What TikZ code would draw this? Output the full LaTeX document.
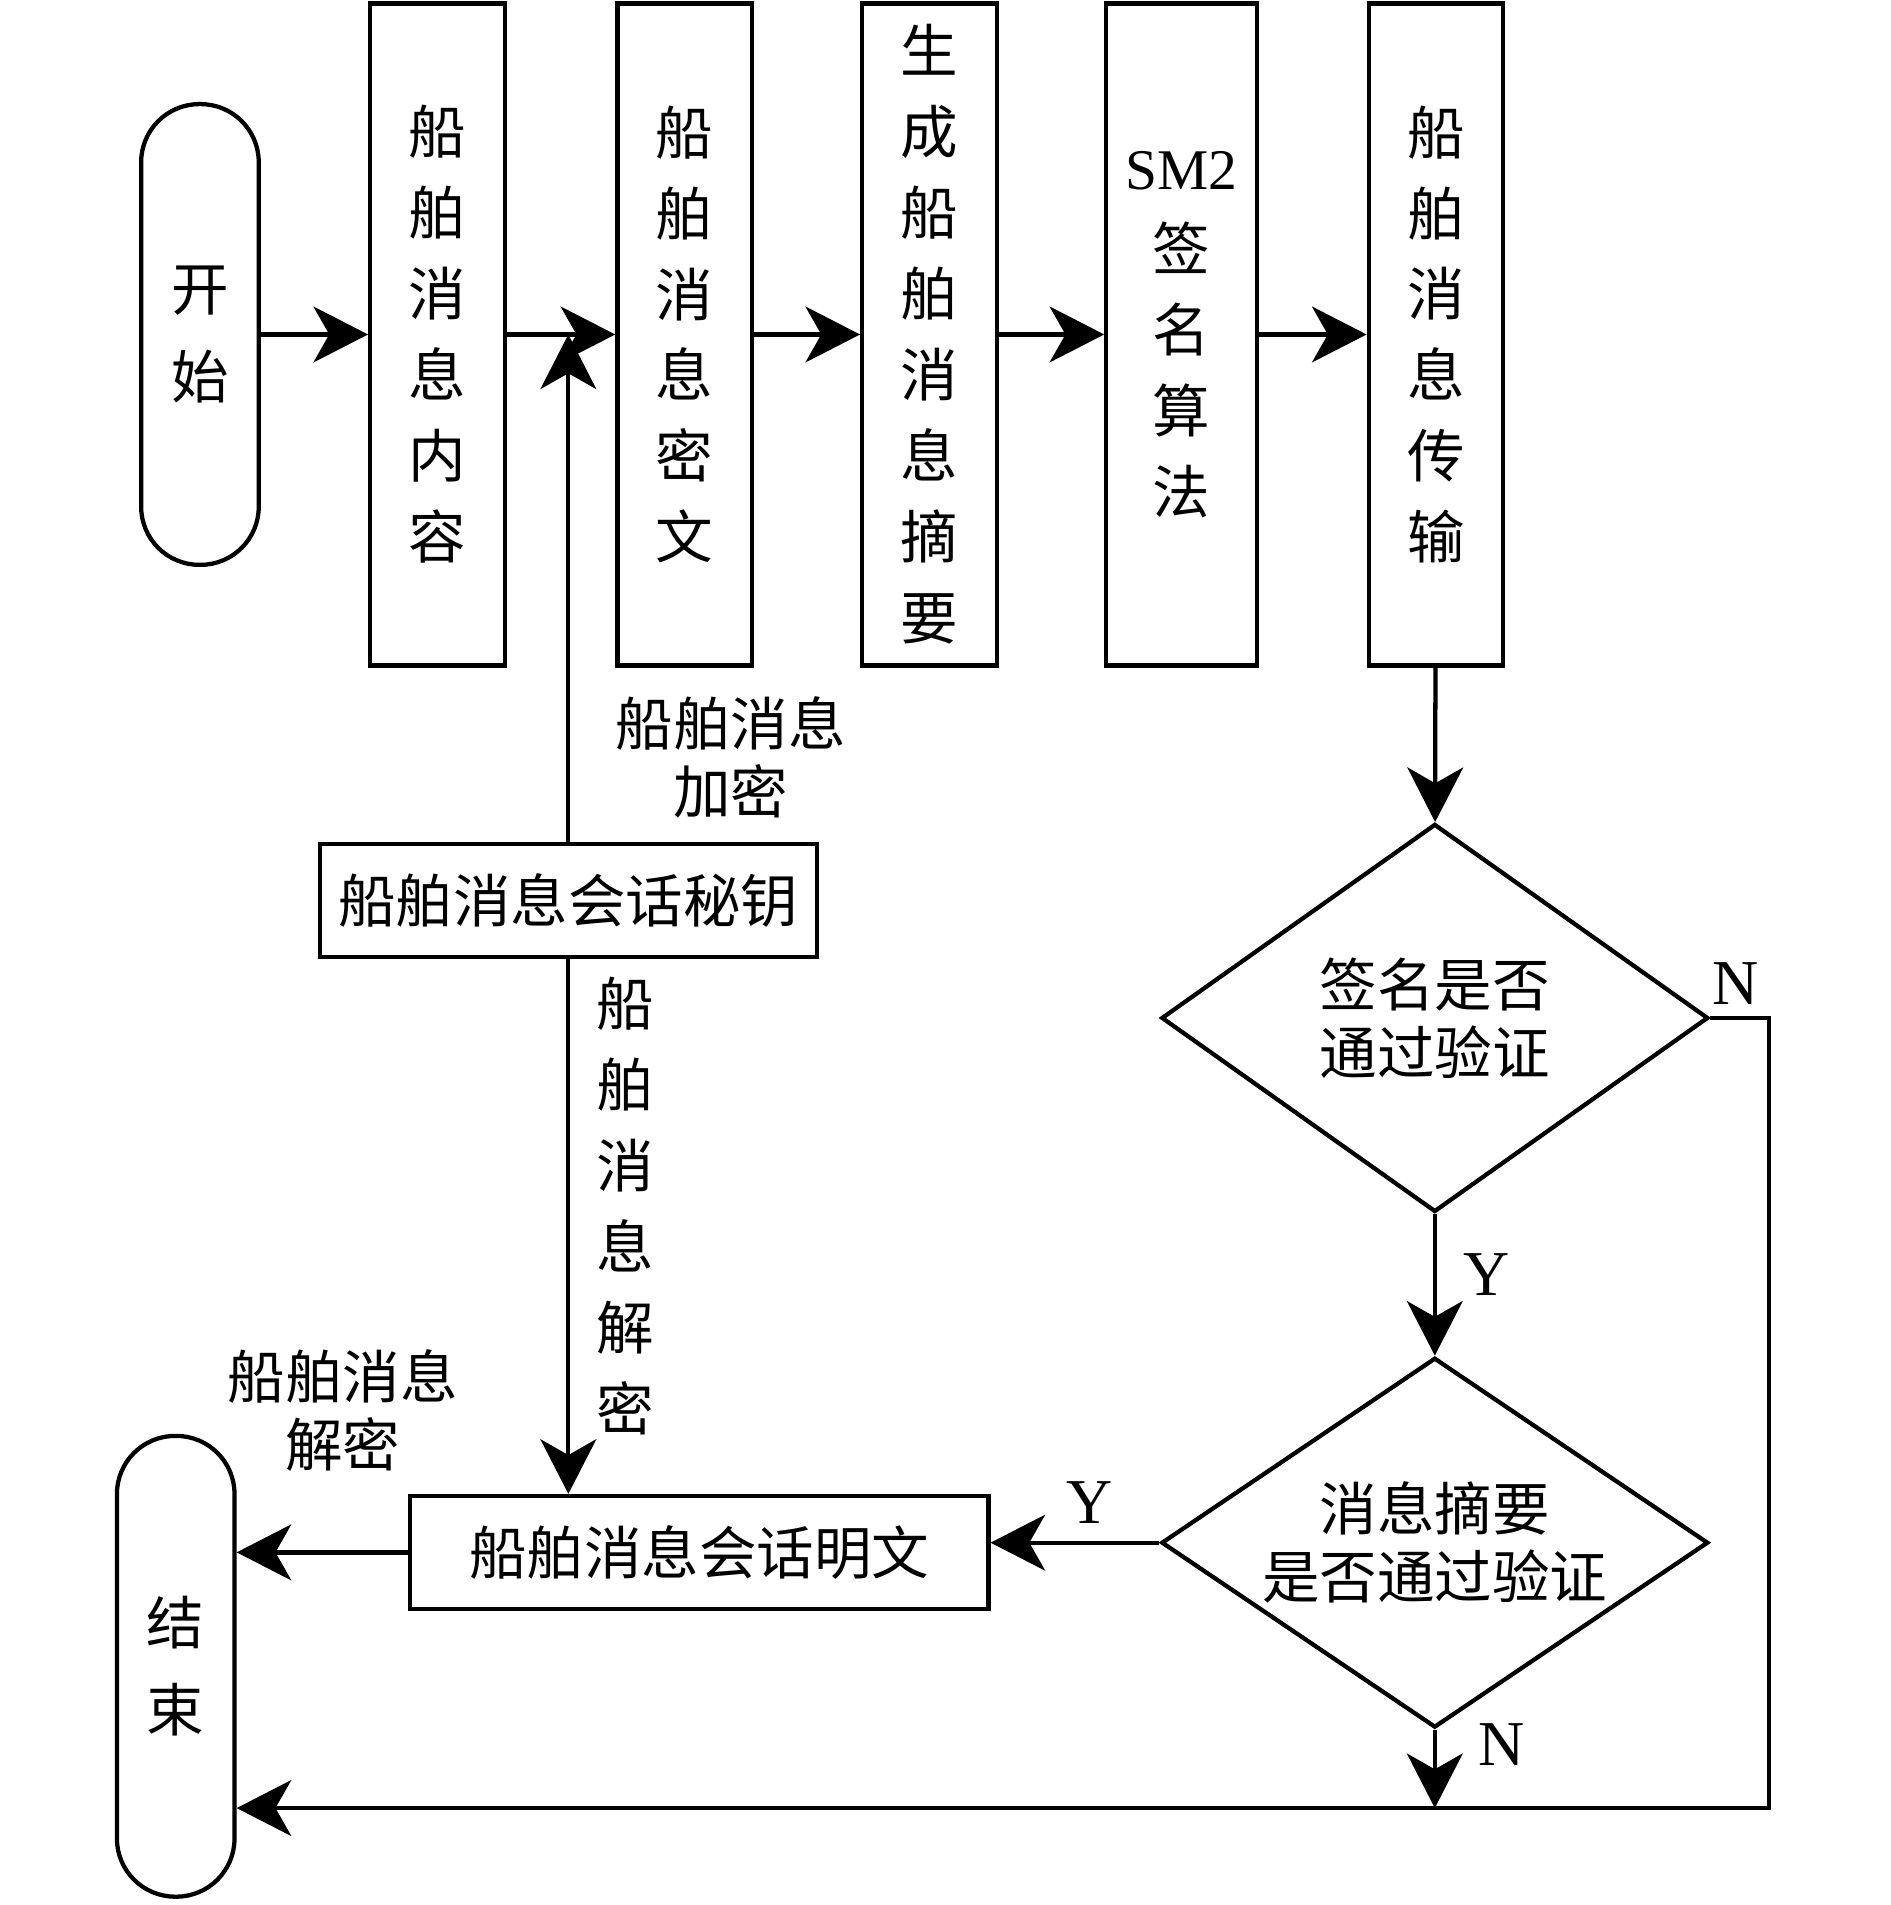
\documentclass[tikz,border=0pt]{standalone}
\usepackage{fontspec}
\setmainfont{Liberation Serif}
\newfontfamily\cjk{Noto Sans CJK SC}
\usetikzlibrary{shapes.geometric,arrows.meta,positioning,calc}

\begin{document}
\begin{tikzpicture}[x=0.01cm, y=-0.01cm, line width=1pt,
    box/.style={draw, minimum width=1.11cm, minimum height=5.46cm, inner sep=0pt, align=center, font=\cjk\fontsize{13.5}{19}\selectfont},
    term/.style={draw, rounded corners=0.48cm, minimum width=0.97cm, minimum height=3.8cm, inner sep=0pt, align=center, font=\cjk\fontsize{13.5}{20.5}\selectfont},
    wide/.style={draw, minimum height=0.93cm, inner sep=0pt, align=center, font=\cjk\fontsize{13.5}{16}\selectfont},
    dec/.style={draw, diamond, aspect=1.41, inner sep=0pt, minimum width=4.51cm, minimum height=3.2cm, align=center, font=\cjk\fontsize{13.5}{16}\selectfont},
    lbl/.style={align=center, inner sep=0pt, font=\cjk\fontsize{13.5}{16}\selectfont},
    yn/.style={inner sep=0pt, font=\fontsize{15}{18}\selectfont},
    arr/.style={-{Stealth[length=0.45cm, width=0.46cm, inset=0.13cm]}}]
    \useasboundingbox (0,0) rectangle (1560,1572);

    % top row
    \node[term] (start) at (165,276) {开\\始};
    \node[box] (b1) at (361,276) {船\\舶\\消\\息\\内\\容};
    \node[box] (b2) at (565,276) {船\\舶\\消\\息\\密\\文};
    \node[box] (b3) at (767,276) {生\\成\\船\\舶\\消\\息\\摘\\要};
    \node[box, minimum width=1.24cm] (b4) at (975,276) {{\rmfamily SM2}\\签\\名\\算\\法};
    \node[box] (b5) at (1185,276) {船\\舶\\消\\息\\传\\输};

    \draw[arr] (start) -- (b1);
    \draw[arr] (b1) -- (b2);
    \draw[arr] (b2) -- (b3);
    \draw[arr] (b3) -- (b4);
    \draw[arr] (b4) -- (b5);

    % session key
    \node[wide, minimum width=4.1cm] (key) at (469,743) {船舶消息会话秘钥};
    \node[wide, minimum width=4.77cm] (plain) at (577,1281) {船舶消息会话明文};
    \node[term] (end) at (145,1375) {结\\束};

    \draw[arr] (key.north) -- (key.north |- b1.east);
    \draw[arr] (key.south) -- (key.south |- plain.north);
    \node[lbl] (encl) at (603,625) {船舶消息\\加密};
    \node[lbl, font=\cjk\fontsize{13.5}{19}\selectfont] (decl) at (516,995) {船\\舶\\消\\息\\解\\密};
    \node[lbl] (decl2) at (283,1164) {船舶消息\\解密};
    \draw[arr] (plain.west) -- (plain.west -| end.east);

    % checks
    \node[dec] (d1) at (1184,840) {签名是否\\通过验证};
    \node[dec, minimum height=3.05cm] (d2) at (1184,1273) {消息摘要\\是否通过验证};
    \coordinate (corner) at (1460,1492);

    \draw[arr] (b5) -- (d1);
    \draw[arr] (d1) -- (d2);
    \draw[arr] (d1.east) -| (corner) -- (corner -| end.east);
    \draw[arr] (d2.south) -- (d2.south |- corner);
    \draw[arr] (d2.west) -- (d2.west -| plain.east);

    \node[yn] (n1) at (1432,812) {N};
    \node[yn] (y1) at (1227,1052) {Y};
    \node[yn] (y2) at (899,1240) {Y};
    \node[yn] (n2) at (1239,1440) {N};
\end{tikzpicture}
\end{document}
